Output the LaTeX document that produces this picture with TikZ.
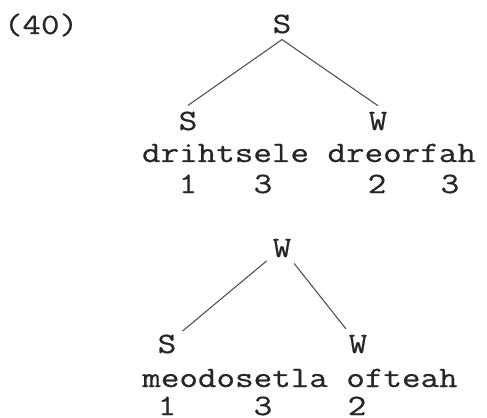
\documentclass[tikz,border=0pt]{standalone}
\usepackage{fontspec}
\newfontfamily\courfont[FakeStretch=1.22,FakeBold=0.6]{Latin Modern Mono}
\begin{document}
\begin{tikzpicture}[lab/.style={anchor=base,text=black!85,font=\courfont\fontsize{16.8}{20}\selectfont},
      br/.style={black!70,line width=0.6pt}]
   \useasboundingbox (0,0) rectangle (9.74,8.34);
   \node (ex) at (0.82,7.66) [lab] {(40)};
   % first tree
   \node (s0) at (5.64,7.68) [lab] {S};
   \node (s1) at (3.76,5.74) [lab] {S};
   \node (w1) at (7.56,5.74) [lab] {W};
   \node (ln1) at (6.18,5.10) [lab] {drihtsele dreorfah};
   \node (a1) at (3.76,4.48) [lab] {1};
   \node (a2) at (5.26,4.48) [lab] {3};
   \node (a3) at (7.54,4.48) [lab] {2};
   \node (a4) at (9.00,4.48) [lab] {3};
   \draw [br] (s0.south)--(s1.north);
   \draw [br] (s0.south)--(w1.north);
   % second tree
   \node (w0) at (5.64,3.20) [lab] {W};
   \node (s2) at (3.34,1.28) [lab] {S};
   \node (w2) at (7.16,1.28) [lab] {W};
   \node (ln2) at (6.00,0.60) [lab] {meodosetla ofteah};
   \node (b1) at (3.34,0.04) [lab] {1};
   \node (b2) at (5.26,0.04) [lab] {3};
   \node (b3) at (7.14,0.04) [lab] {2};
   \draw [br] (w0)--(s2);
   \draw [br] (w0)--(w2);
\end{tikzpicture}
\end{document}
